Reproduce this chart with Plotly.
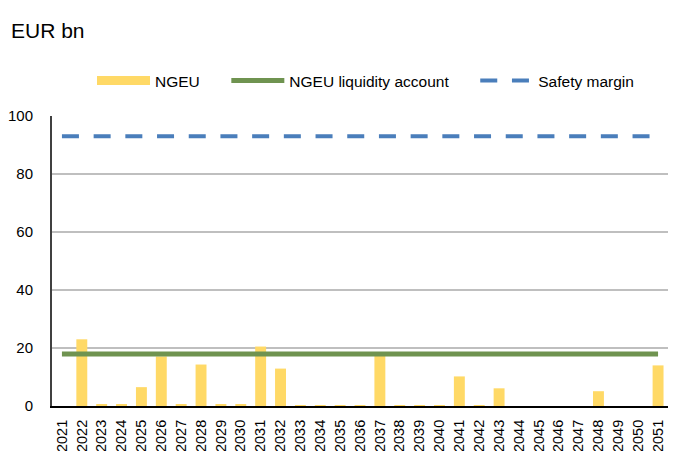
import plotly.graph_objects as go

years = [str(y) for y in range(2021, 2052)]

# NGEU repayments, EUR bn
ngeu = [0, 23.0, 0.5, 0.5, 6.5, 17.1, 0.5, 14.3, 0.5, 0.5,
        20.5, 12.9, 0.2, 0.2, 0.2, 0.2, 18.2, 0.2, 0.2, 0.2,
        10.2, 0.2, 6.1, 0, 0, 0, 0, 5.1, 0, 0,
        14.0]
liquidity_account = [17.9] * len(years)
safety_margin = [93.0] * len(years)

yellow = "#FFD966"
green = "#6F9350"
blue = "#4A7EBB"
pad = "\u00a0" * 5  # extra room between legend entries

# page body adds an 8px offset, so the figure is shrunk to fit the window
W, H = 684, 443
L, T, R, B = 44, 107.5, 660, 397.7

fig = go.Figure()

fig.add_trace(go.Bar(x=years, y=ngeu, marker_color=yellow, marker_line_width=0,
                     name="NGEU", showlegend=False))
# legend swatch for the bars (wide yellow block like the original)
fig.add_trace(go.Scatter(x=[None], y=[None], mode="lines", name="NGEU" + pad,
                         line=dict(color=yellow, width=9)))
fig.add_trace(go.Scatter(x=years, y=liquidity_account, mode="lines",
                         name="NGEU liquidity account" + pad,
                         line=dict(color=green, width=5)))
fig.add_trace(go.Scatter(x=years, y=safety_margin, mode="lines",
                         name="Safety margin",
                         line=dict(color=blue, width=4, dash="17px,14.7px")))

fig.update_layout(
    width=W, height=H,
    margin=dict(l=L, r=W - R, t=T, b=H - B),
    paper_bgcolor="white", plot_bgcolor="white",
    font=dict(family="Liberation Sans, Arial, sans-serif", size=15, color="black"),
    bargap=0.45,
    legend=dict(orientation="h", xref="container", yref="container",
                x=84 / W, xanchor="left", y=1 - 73 / H, yanchor="middle",
                font=dict(size=15.5), itemwidth=53, traceorder="normal"),
    annotations=[dict(text="EUR bn", xref="paper", yref="paper",
                      x=(1 - L) / (R - L), xanchor="left",
                      y=(B - 22) / (B - T), yanchor="middle",
                      showarrow=False, font=dict(size=21))],
)

fig.update_xaxes(type="category", range=[-0.5, 30.5], tickangle=-90,
                 showline=True, linecolor="black", linewidth=2,
                 ticks="", tickfont=dict(size=14.5), showgrid=False,
                 ticklabelstandoff=6, automargin=False)
fig.update_yaxes(range=[0, 100], dtick=20, showline=True, linecolor="#404040",
                 linewidth=2, gridcolor="#BFBFBF", gridwidth=1.5,
                 ticks="", ticklabelstandoff=14, zeroline=False,
                 automargin=False)

fig.write_html("out.html")
